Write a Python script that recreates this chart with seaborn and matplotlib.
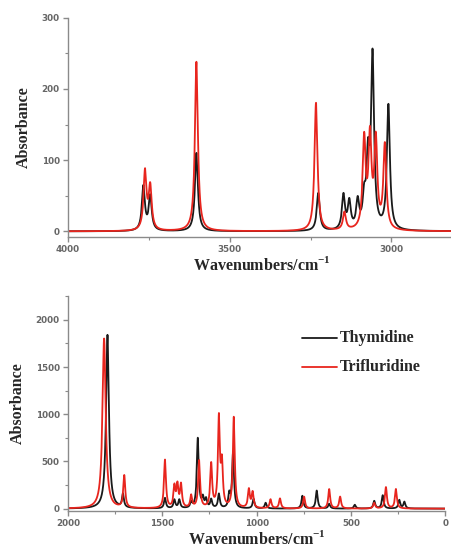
import numpy as np
import pandas as pd
import matplotlib
matplotlib.use("Agg")
import matplotlib.pyplot as plt
import seaborn as sns

# Peak lists (position in cm-1, intensity) for the high-wavenumber region
thy_hi_pos = [3767, 3746, 3603, 3226, 3148, 3130, 3104, 3084, 3072, 3058, 3009]
thy_hi_int = [62, 48, 110, 53, 48, 38, 38, 38, 90, 240, 175]
tri_hi_pos = [3762, 3746, 3603, 3233, 3145, 3084, 3066, 3048, 3020]
tri_hi_int = [82, 60, 238, 180, 25, 125, 125, 122, 118]

# Peak lists for the fingerprint region (with band half-widths)
thy_lo_pos = [1791, 1709, 1486, 1436, 1410, 1347, 1312, 1285, 1268, 1241, 1200,
              1145, 1125, 1016, 952, 757, 681, 615, 479, 376, 331, 243, 216]
thy_lo_int = [1840, 140, 110, 90, 90, 60, 740, 100, 90, 90, 150,
              140, 580, 100, 60, 135, 190, 50, 40, 80, 140, 90, 70]
thy_lo_hw = [9, 6, 6, 6, 6, 6, 6, 6, 6, 6, 6,
             6, 6, 6, 6, 6, 6, 6, 6, 6, 6, 6, 6]
tri_lo_pos = [1809, 1702, 1486, 1436, 1420, 1401, 1347, 1305, 1241, 1200, 1184,
              1121, 1041, 1021, 926, 876, 748, 615, 557, 376, 314, 261]
tri_lo_int = [1800, 340, 510, 220, 230, 240, 130, 500, 460, 940, 440,
              960, 195, 165, 95, 105, 125, 205, 125, 60, 225, 205]
tri_lo_hw = [10, 6, 6, 6, 6, 6, 6, 6, 6, 6, 6,
             6, 6, 6, 6, 6, 6, 6, 6, 6, 6, 6]

names = ["Thymidine", "Trifluridine"]
colors = {"Thymidine": "#1a1a1a", "Trifluridine": "#e8251e"}


def lorentz_sum(x, pos, amp, hw):
    hw = np.broadcast_to(np.asarray(hw, dtype=float), (len(pos),))
    y = np.zeros_like(x)
    for p, a, w in zip(pos, amp, hw):
        y += a * w ** 2 / ((x - p) ** 2 + w ** 2)
    return y


x_hi = np.linspace(2800, 4000, 6000)
x_lo = np.linspace(0, 2000, 10000)

hi = pd.concat([
    pd.DataFrame({"wn": x_hi, "abs": lorentz_sum(x_hi, thy_hi_pos, thy_hi_int, 5.5), "mol": names[0]}),
    pd.DataFrame({"wn": x_hi, "abs": lorentz_sum(x_hi, tri_hi_pos, tri_hi_int, 5.5), "mol": names[1]}),
])
lo = pd.concat([
    pd.DataFrame({"wn": x_lo, "abs": lorentz_sum(x_lo, thy_lo_pos, thy_lo_int, thy_lo_hw), "mol": names[0]}),
    pd.DataFrame({"wn": x_lo, "abs": lorentz_sum(x_lo, tri_lo_pos, tri_lo_int, tri_lo_hw), "mol": names[1]}),
])

sns.set_style("ticks")
plt.rcParams["mathtext.fontset"] = "custom"
plt.rcParams["mathtext.rm"] = "Liberation Serif"
plt.rcParams["mathtext.bf"] = "Liberation Serif:bold"

fig = plt.figure(figsize=(4.51, 5.48), dpi=100)
ax1 = fig.add_axes([0.151, 0.5675, 0.86, 0.40])
ax2 = fig.add_axes([0.151, 0.0675, 0.836, 0.392])

label_font = dict(family="Liberation Serif", weight="bold", size=11.5)
tick_color = "#666666"
xlabel = r"Wavenumbers/cm$^{\mathbf{-1}}$"

for ax, df, xlim, ylim, xmaj, ymaj in [
    (ax1, hi, (4000, 2800), (-8, 300), 500, 100),
    (ax2, lo, (2000, 0), (-25, 2250), 500, 500),
]:
    sns.lineplot(data=df, x="wn", y="abs", hue="mol", palette=colors,
                 ax=ax, linewidth=1.3, legend=False, estimator=None, sort=True)
    ax.set_xlim(*xlim)
    ax.set_ylim(*ylim)
    ax.xaxis.set_major_locator(matplotlib.ticker.MultipleLocator(xmaj))
    ax.xaxis.set_minor_locator(matplotlib.ticker.MultipleLocator(xmaj / 2))
    ax.yaxis.set_major_locator(matplotlib.ticker.MultipleLocator(ymaj))
    ax.yaxis.set_minor_locator(matplotlib.ticker.MultipleLocator(ymaj / 2))
    sns.despine(ax=ax)
    for s in ("left", "bottom"):
        ax.spines[s].set_color("#8a8a8a")
        ax.spines[s].set_linewidth(1.0)
    ax.tick_params(which="major", length=3.5, width=1.0, color="#8a8a8a",
                   labelsize=6.3, labelcolor=tick_color, pad=2.5)
    ax.tick_params(which="minor", length=2, width=0.8, color="#8a8a8a")
    for lab in ax.get_xticklabels() + ax.get_yticklabels():
        lab.set_fontweight("bold")
    ax.set_xlabel(xlabel, fontdict=label_font, labelpad=1)
    ax.set_ylabel("Absorbance", fontdict=label_font, labelpad=7)

# Legend drawn as plain lines and texts in the fingerprint panel
for i, name in enumerate(names):
    yy = 0.805 - i * 0.135
    ax2.plot([0.62, 0.714], [yy, yy], transform=ax2.transAxes,
             color=colors[name], linewidth=1.3)
    ax2.text(0.72, yy, name, transform=ax2.transAxes, va="center", ha="left",
             family="Liberation Serif", weight="bold", size=11.5)

fig.savefig("out.png", dpi=100)
